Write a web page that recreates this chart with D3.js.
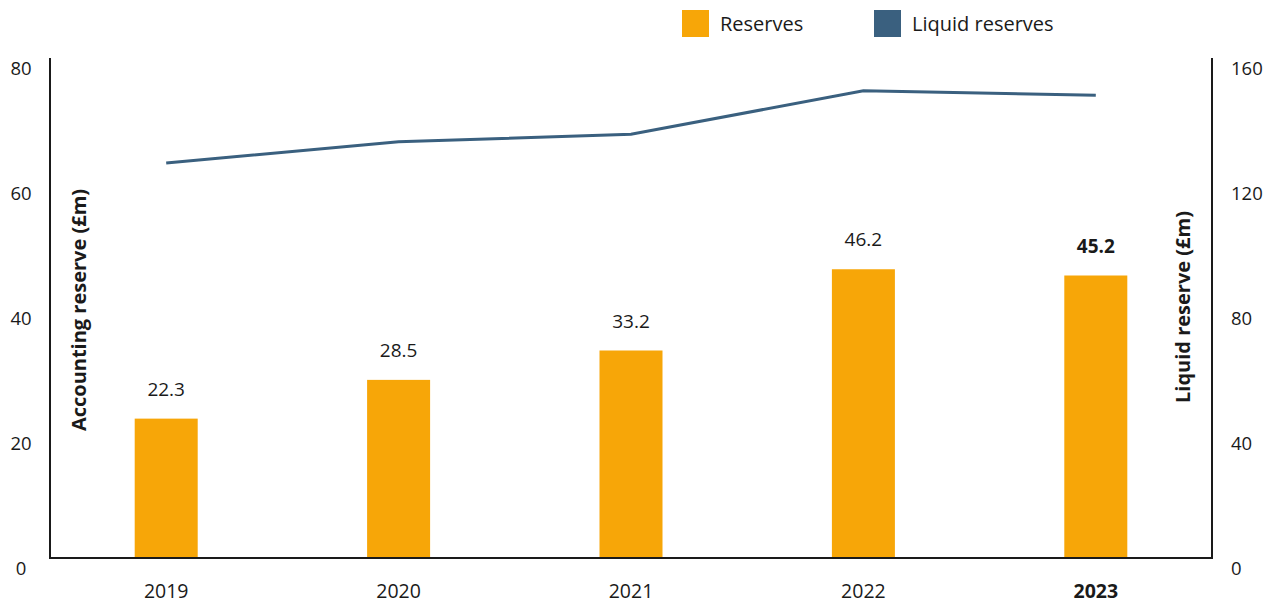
<!DOCTYPE html>
<html><head><meta charset="utf-8">
<script src="https://cdn.jsdelivr.net/npm/d3@7"></script>
<style>body{margin:0;background:#fff;} text{font-family:"Open Sans","Noto Sans",sans-serif;}</style>
</head><body>
<svg id="c" width="1273" height="603"></svg>
<script>
const years = ["2019","2020","2021","2022","2023"];
const reserves = [22.3, 28.5, 33.2, 46.2, 45.2];
const liquidReserves = [126.4, 133.2, 135.6, 149.5, 148.1];
const leftTicks = [0, 20, 40, 60, 80];
const rightTicks = [0, 40, 80, 120, 160];

const svg = d3.select("#c");
const L = 50, R = 1212, T = 58, B = 558;
const orange = "#F7A608", blue = "#3A607F", ink = "#1a1a1a";

const x = d3.scaleBand().domain(years).range([L, R]);
const yL = d3.scaleLinear().domain([0, 80]).range([B, T]);
const yR = d3.scaleLinear().domain([0, 160]).range([B, T]);
const barW = 63;

// bars
svg.append("g").selectAll("rect").data(years).join("rect")
  .attr("x", d => x(d) + x.bandwidth()/2 - barW/2)
  .attr("width", barW)
  .attr("y", (d,i) => yL(reserves[i]))
  .attr("height", (d,i) => B - yL(reserves[i]))
  .attr("fill", orange);

// bar labels
svg.append("g").selectAll("text").data(years).join("text")
  .attr("x", d => x(d) + x.bandwidth()/2)
  .attr("y", (d,i) => yL(reserves[i]) - 23)
  .attr("text-anchor", "middle")
  .attr("font-size", 19)
  .attr("font-weight", (d,i) => i === years.length-1 ? 700 : 400)
  .attr("fill", ink)
  .text((d,i) => reserves[i].toFixed(1));

// line
const line = d3.line().x((d,i) => x(years[i]) + x.bandwidth()/2).y(d => yR(d));
svg.append("path").datum(liquidReserves).attr("d", line)
  .attr("fill", "none").attr("stroke", blue).attr("stroke-width", 3);

// axes lines
const axisG = svg.append("g").attr("stroke", ink).attr("stroke-width", 2);
axisG.append("line").attr("x1", L).attr("x2", L).attr("y1", T).attr("y2", B+1);
axisG.append("line").attr("x1", R).attr("x2", R).attr("y1", T).attr("y2", B+1);
axisG.append("line").attr("x1", L-1).attr("x2", R+1).attr("y1", B).attr("y2", B);

// left tick labels
svg.append("g").selectAll("text").data(leftTicks).join("text")
  .attr("x", 21).attr("y", d => yL(d) + 17)
  .attr("text-anchor", "middle").attr("font-size", 18.5).attr("fill", ink)
  .text(d => d);
// right tick labels
svg.append("g").selectAll("text").data(rightTicks).join("text")
  .attr("x", 1231).attr("y", d => yR(d) + 17)
  .attr("text-anchor", "start").attr("font-size", 18.5).attr("fill", ink)
  .text(d => d);

// x labels
svg.append("g").selectAll("text").data(years).join("text")
  .attr("x", d => x(d) + x.bandwidth()/2).attr("y", 598)
  .attr("text-anchor", "middle").attr("font-size", 19.5)
  .attr("font-weight", (d,i) => i === years.length-1 ? 700 : 400)
  .attr("fill", ink).text(d => d);

// axis titles
svg.append("text").attr("transform", "translate(86,310) rotate(-90)")
  .attr("text-anchor", "middle").attr("font-size", 20).attr("font-weight", 700)
  .attr("fill", ink).text("Accounting reserve (£m)");
svg.append("text").attr("transform", "translate(1190,307) rotate(-90)")
  .attr("text-anchor", "middle").attr("font-size", 20).attr("font-weight", 700)
  .attr("fill", ink).text("Liquid reserve (£m)");

// legend
const legend = [{label:"Reserves", color: orange, x: 682}, {label:"Liquid reserves", color: blue, x: 874}];
const lg = svg.append("g").selectAll("g").data(legend).join("g");
lg.append("rect").attr("x", d => d.x).attr("y", 10).attr("width", 27).attr("height", 27).attr("fill", d => d.color);
lg.append("text").attr("x", d => d.x + 38).attr("y", 31).attr("font-size", 20).attr("fill", ink).text(d => d.label);
</script>
</body></html>
